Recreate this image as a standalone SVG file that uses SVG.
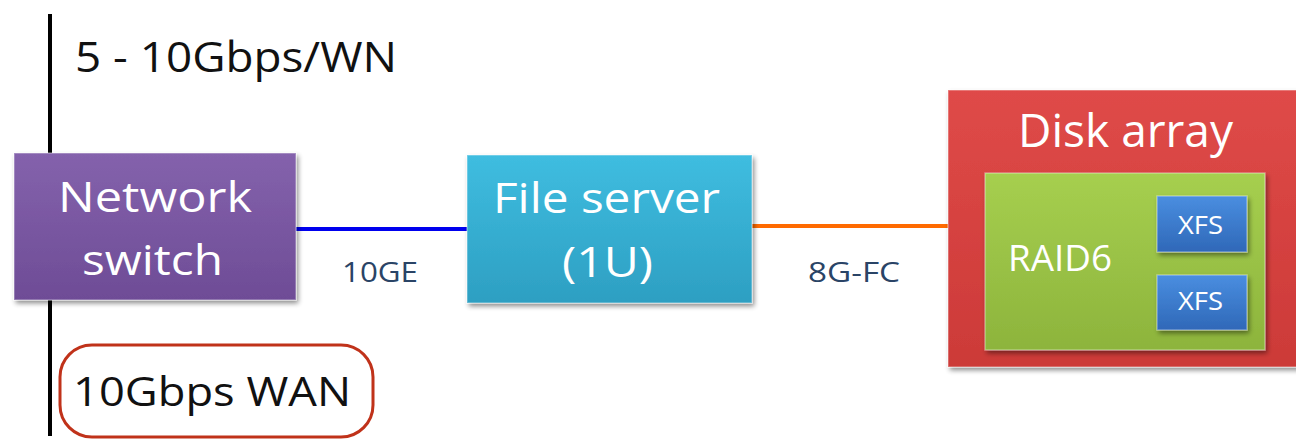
<svg xmlns="http://www.w3.org/2000/svg" width="1296" height="440" viewBox="0 0 1296 440">
<defs>
<filter id="sh" x="-10%" y="-10%" width="125%" height="130%">
<feGaussianBlur in="SourceAlpha" stdDeviation="2.5"/>
<feOffset dx="2" dy="3" result="b"/>
<feComponentTransfer><feFuncA type="linear" slope="0.45"/></feComponentTransfer>
<feMerge><feMergeNode/><feMergeNode in="SourceGraphic"/></feMerge>
</filter>
<linearGradient id="gP" x1="0" y1="0" x2="0" y2="1"><stop offset="0" stop-color="#8462ac"/><stop offset="1" stop-color="#6e4c96"/></linearGradient>
<linearGradient id="gC" x1="0" y1="0" x2="0" y2="1"><stop offset="0" stop-color="#3fbde0"/><stop offset="1" stop-color="#2d9fc2"/></linearGradient>
<linearGradient id="gR" x1="0" y1="0" x2="0" y2="1"><stop offset="0" stop-color="#df4a48"/><stop offset="1" stop-color="#cc3a38"/></linearGradient>
<linearGradient id="gG" x1="0" y1="0" x2="0" y2="1"><stop offset="0" stop-color="#a6cf4f"/><stop offset="1" stop-color="#8db43c"/></linearGradient>
<linearGradient id="gB" x1="0" y1="0" x2="0" y2="1"><stop offset="0" stop-color="#4a8ee0"/><stop offset="1" stop-color="#2f68b8"/></linearGradient>
</defs>
<style>
.t{font-family:"Open Sans","Liberation Sans",sans-serif;}
.w{fill:#ffffff;}
.lbl{fill:#2a4466;font-size:28px;}
.big{fill:#111111;}
.box{stroke:#ffffff;stroke-opacity:0.35;stroke-width:1.5;filter:url(#sh);}
</style>
<rect width="1296" height="440" fill="#ffffff"/>
<line x1="50" y1="14" x2="50" y2="436" stroke="#000" stroke-width="4"/>
<g id="label-top"><text class="t big" x="75" y="72" font-size="42" textLength="322" lengthAdjust="spacingAndGlyphs">5 - 10Gbps/WN</text></g>
<g id="label-wan">
<rect x="60" y="345" width="313" height="92" rx="32" fill="none" stroke="#c0321a" stroke-width="3"/>
<text class="t big" x="73" y="406" font-size="41" textLength="278" lengthAdjust="spacingAndGlyphs">10Gbps WAN</text>
</g>
<g id="connectors">
<line x1="296" y1="229" x2="467" y2="229" stroke="#0000ee" stroke-width="4"/>
<line x1="752" y1="226" x2="948" y2="226" stroke="#ff6a00" stroke-width="4"/>
<text class="t lbl" x="342" y="282" textLength="76" lengthAdjust="spacingAndGlyphs">10GE</text>
<text class="t lbl" x="808" y="282" textLength="92" lengthAdjust="spacingAndGlyphs">8G-FC</text>
</g>
<g id="network-switch">
<rect class="box" x="14" y="153" width="282" height="147" fill="url(#gP)"/>
<text class="t w" x="58" y="212" font-size="42" textLength="194" lengthAdjust="spacingAndGlyphs">Network</text>
<text class="t w" x="82" y="275" font-size="42" textLength="141" lengthAdjust="spacingAndGlyphs">switch</text>
</g>
<g id="file-server">
<rect class="box" x="467" y="155" width="285" height="148" fill="url(#gC)"/>
<text class="t w" x="493" y="213" font-size="42" textLength="227" lengthAdjust="spacingAndGlyphs">File server</text>
<text class="t w" x="562" y="277" font-size="42" textLength="91" lengthAdjust="spacingAndGlyphs">(1U)</text>
</g>
<g id="disk-array">
<rect class="box" x="948" y="90" width="352" height="277" fill="url(#gR)"/>
<text class="t w" x="1018" y="147" font-size="45" textLength="215" lengthAdjust="spacingAndGlyphs">Disk array</text>
</g>
<g id="raid6">
<rect class="box" x="985" y="173" width="280" height="177" fill="url(#gG)"/>
<text class="t w" x="1008" y="271" font-size="36" textLength="104" lengthAdjust="spacingAndGlyphs">RAID6</text>
</g>
<g id="xfs-1">
<rect class="box" x="1157" y="196" width="90" height="56" fill="url(#gB)"/>
<text class="t w" x="1178" y="234" font-size="25" textLength="45" lengthAdjust="spacingAndGlyphs">XFS</text>
</g>
<g id="xfs-2">
<rect class="box" x="1157" y="275" width="90" height="55" fill="url(#gB)"/>
<text class="t w" x="1178" y="310" font-size="25" textLength="45" lengthAdjust="spacingAndGlyphs">XFS</text>
</g>
</svg>
